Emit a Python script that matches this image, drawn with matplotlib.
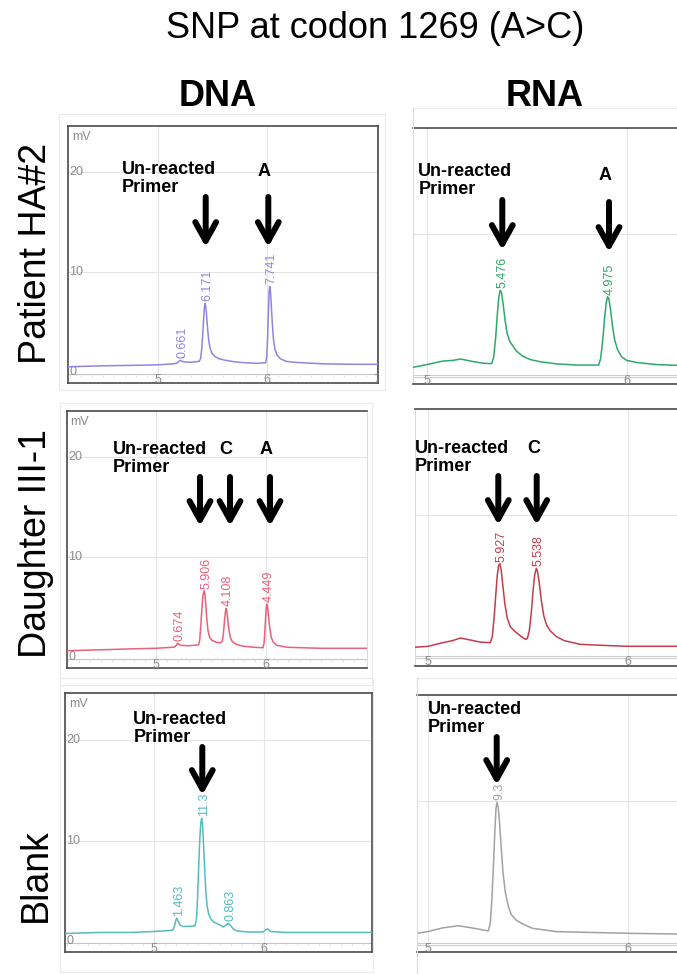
import numpy as np
import matplotlib.pyplot as plt
from matplotlib.patches import Rectangle

plt.rcParams['font.family'] = ['Liberation Sans', 'DejaVu Sans']

W, H = 677, 974

# traces: retention time (min), signal (mV)
dna1_t = [4.18, 4.5, 4.8, 5.0, 5.15, 5.18, 5.195, 5.205, 5.215, 5.235, 5.3, 5.38, 5.392, 5.402,
          5.412, 5.42, 5.426, 5.432, 5.438, 5.445, 5.455, 5.465, 5.478, 5.495, 5.52, 5.56,
          5.62, 5.7, 5.8, 5.9, 5.985, 5.995, 6.003, 6.01, 6.016, 6.022, 6.028, 6.035, 6.045,
          6.056, 6.07, 6.09, 6.12, 6.17, 6.25, 6.5, 6.8, 7.03]
dna1_mv = [0.55, 0.65, 0.7, 0.75, 0.85, 0.95, 1.1, 1.2, 1.15, 1.05, 1.0, 1.1, 1.4, 2.4,
           4.0, 5.5, 6.5, 6.9, 6.6, 5.8, 4.4, 3.2, 2.4, 1.9, 1.6, 1.35,
           1.2, 1.05, 0.95, 0.9, 0.95, 1.6, 3.5, 6.0, 8.0, 8.6, 8.2, 7.0, 5.0,
           3.3, 2.3, 1.7, 1.35, 1.1, 1.0, 0.85, 0.8, 0.8]
dna1_peak_t = [5.205, 5.432, 6.022]
dna1_peak_mv = [1.2, 6.9, 8.6]
dna1_peak_txt = ["0.661", "6.171", "7.741"]

rna1_t = [4.93, 5.0, 5.08, 5.13, 5.17, 5.22, 5.28, 5.325, 5.335, 5.345, 5.353, 5.36, 5.367,
          5.374, 5.382, 5.392, 5.402, 5.415, 5.43, 5.45, 5.48, 5.52, 5.57, 5.65, 5.75, 5.86,
          5.87, 5.88, 5.889, 5.897, 5.904, 5.911, 5.919, 5.929, 5.94, 5.955, 5.975, 6.0,
          6.05, 6.15, 6.25]
rna1_mv = [0.45, 0.65, 0.9, 0.95, 1.05, 0.9, 0.75, 0.72, 1.2, 2.6, 4.2, 5.4, 5.95,
           5.8, 5.0, 3.8, 2.9, 2.3, 2.0, 1.6, 1.25, 1.0, 0.85, 0.7, 0.62, 0.62,
           1.1, 2.4, 3.9, 5.0, 5.5, 5.35, 4.6, 3.4, 2.4, 1.7, 1.2, 0.95,
           0.8, 0.65, 0.6]
rna1_peak_t = [5.367, 5.904]
rna1_peak_mv = [5.95, 5.5]
rna1_peak_txt = ["5.476", "4.975"]

dna2_t = [4.19, 4.5, 4.8, 5.0, 5.15, 5.175, 5.19, 5.199, 5.21, 5.23, 5.3, 5.39, 5.40, 5.41,
          5.42, 5.43, 5.44, 5.447, 5.455, 5.465, 5.475, 5.49, 5.51, 5.55, 5.59, 5.605,
          5.615, 5.625, 5.633, 5.64, 5.647, 5.655, 5.665, 5.678, 5.695, 5.73, 5.8, 5.9,
          5.975, 5.985, 5.993, 6.0, 6.006, 6.012, 6.018, 6.026, 6.036, 6.05, 6.07, 6.1,
          6.2, 6.5, 6.92]
dna2_mv = [0.66, 0.75, 0.85, 0.9, 1.0, 1.05, 1.25, 1.4, 1.3, 1.2, 1.15, 1.25, 1.7, 3.2,
           4.9, 6.2, 6.66, 6.3, 5.3, 3.8, 2.7, 2.0, 1.7, 1.5, 1.45, 1.6,
           2.3, 3.6, 4.5, 4.9, 4.6, 3.8, 2.8, 2.0, 1.6, 1.3, 1.1, 1.0,
           0.95, 1.4, 2.7, 4.2, 5.1, 5.33, 5.0, 4.1, 3.0, 2.0, 1.5, 1.2,
           1.0, 0.9, 0.9]
dna2_peak_t = [5.199, 5.44, 5.64, 6.012]
dna2_peak_mv = [1.4, 6.66, 4.9, 5.33]
dna2_peak_txt = ["0.674", "5.906", "4.108", "4.449"]

rna2_t = [4.93, 5.0, 5.07, 5.12, 5.16, 5.21, 5.26, 5.31, 5.32, 5.33, 5.338, 5.345, 5.352,
          5.358, 5.365, 5.373, 5.383, 5.395, 5.41, 5.43, 5.46, 5.485, 5.495, 5.505, 5.515,
          5.524, 5.532, 5.54, 5.547, 5.555, 5.565, 5.577, 5.592, 5.61, 5.64, 5.68, 5.76,
          5.9, 6.0, 6.24]
rna2_mv = [0.53, 0.6, 0.85, 1.0, 1.19, 1.05, 0.9, 0.86, 1.3, 2.8, 4.4, 5.7, 6.4,
           6.5, 6.0, 4.9, 3.6, 2.6, 2.0, 1.7, 1.35, 1.1, 1.15, 1.7, 3.0,
           4.6, 5.7, 6.17, 5.9, 5.1, 3.9, 2.8, 2.1, 1.7, 1.3, 1.0, 0.74,
           0.65, 0.6, 0.6]
rna2_peak_t = [5.356, 5.54]
rna2_peak_mv = [6.5, 6.17]
rna2_peak_txt = ["5.927", "5.538"]

dna3_t = [4.19, 4.5, 4.8, 5.0, 5.15, 5.17, 5.185, 5.197, 5.205, 5.215, 5.235, 5.26, 5.3,
          5.37, 5.385, 5.395, 5.405, 5.415, 5.424, 5.432, 5.44, 5.448, 5.458, 5.468, 5.48,
          5.495, 5.515, 5.54, 5.58, 5.63, 5.655, 5.675, 5.69, 5.72, 5.75, 5.85, 5.99, 6.02,
          6.035, 6.06, 6.2, 6.5, 6.98]
dna3_mv = [0.75, 0.85, 0.85, 0.95, 1.05, 1.1, 1.5, 2.1, 2.27, 2.0, 1.6, 1.45, 1.45,
           1.5, 2.2, 4.5, 7.5, 10.2, 11.8, 12.2, 11.5, 9.8, 7.4, 5.2, 3.6,
           2.7, 2.2, 1.9, 1.7, 1.4, 1.6, 1.77, 1.6, 1.2, 1.0, 0.9, 0.9, 1.15,
           1.2, 0.95, 0.85, 0.85, 0.85]
dna3_peak_t = [5.205, 5.432, 5.675]
dna3_peak_mv = [2.27, 12.2, 1.77]
dna3_peak_txt = ["1.463", "11.3", "0.863"]

rna3_t = [4.945, 5.0, 5.07, 5.15, 5.22, 5.30, 5.31, 5.318, 5.325, 5.332, 5.338, 5.343, 5.349,
          5.356, 5.364, 5.373, 5.385, 5.4, 5.415, 5.44, 5.47, 5.52, 5.64, 6.0, 6.24]
rna3_mv = [0.57, 0.7, 0.95, 1.11, 0.95, 0.74, 1.3, 3.0, 5.2, 7.6, 9.4, 9.9, 9.6,
           8.5, 6.8, 5.0, 3.5, 2.5, 1.9, 1.5, 1.25, 0.93, 0.69, 0.57, 0.52]
rna3_peak_t = [5.343]
rna3_peak_mv = [9.9]
rna3_peak_txt = ["9.3"]

fig = plt.figure(figsize=(W / 100, H / 100), dpi=100)

GRID = '#e4e4e4'
TICK = '#8c8c8c'
FRAME = '#4a4a4a'


def panel(box, p5, p6, py0, s, t, mv, color, pk_t, pk_mv, pk_txt, dna=True, right_dark=True):
    x0, y0, x1, y1 = box
    ax = fig.add_axes([x0 / W, 1 - y1 / H, (x1 - x0) / W, (y1 - y0) / H])
    xmax = 5 + (x1 - p5) / (p6 - p5)
    ax.set_xlim(5 + (x0 - p5) / (p6 - p5), xmax)
    ax.set_ylim((py0 - y1) / s, (py0 - y0) / s)
    ax.set_xticks([])
    ax.set_yticks([])
    for v in (5, 6, 7):
        ax.axvline(v, color=GRID, lw=0.8, zorder=0)
    for v in (10, 20):
        ax.axhline(v, color=GRID, lw=0.8, zorder=0)
    if dna:
        ax.axhline(-2 / s, color='#c4c4c4', lw=0.8, zorder=1)
        ax.vlines(np.arange(4.2, 7.05, 0.1), -4.5 / s, -3 / s, color='#dadada', lw=0.6)
        for v in (0, 10, 20):
            ax.text(0.004, v, str(v), transform=ax.get_yaxis_transform(), ha='left',
                    va='center', fontsize=9, color=TICK)
        ax.text(0.012, (py0 - y0 - 11) / s, "mV", transform=ax.get_yaxis_transform(),
                ha='left', va='center', fontsize=9, color=TICK)
        tick_y = -7.5 / s
    else:
        ax.axhline(-1.5 / s, color='#cfcfcf', lw=0.8, zorder=1)
        ax.axhline(-3.7 / s, color='#cfcfcf', lw=0.8, zorder=1)
        tick_y = -7.3 / s
    for v in (5, 6, 7):
        if v < xmax:
            ax.text(v, tick_y, str(v), ha='center', va='center', fontsize=9, color=TICK,
                    clip_on=True)
    ax.plot(t, mv, color=color, lw=1.1, zorder=3)
    for x, y, txt in zip(pk_t, pk_mv, pk_txt):
        ax.annotate(txt, (x, y), xytext=(1.5, 1.5), textcoords='offset points', rotation=90,
                    ha='center', va='bottom', fontsize=9, color=color)
    for side, sp in ax.spines.items():
        sp.set_color(FRAME)
        sp.set_linewidth(1.2)
    if not dna:
        ax.spines['left'].set_color('#dcdcdc')
        ax.spines['left'].set_linewidth(0.8)
        ax.spines['right'].set_visible(False)
    elif not right_dark:
        ax.spines['right'].set_color('#dcdcdc')
        ax.spines['right'].set_linewidth(0.8)
    return ax


panel((68, 126, 378, 383), 157.7, 267.3, 372.3, 10.0, dna1_t, dna1_mv, '#9583e0',
      dna1_peak_t, dna1_peak_mv, dna1_peak_txt)
panel((413, 128, 677, 384), 426.7, 626.7, 373.7, 14.0, rna1_t, rna1_mv, '#2fa86a',
      rna1_peak_t, rna1_peak_mv, rna1_peak_txt, dna=False)
panel((67, 411, 367, 668), 155.7, 265.7, 657.3, 10.0, dna2_t, dna2_mv, '#ea6078',
      dna2_peak_t, dna2_peak_mv, dna2_peak_txt, right_dark=False)
panel((415, 409, 677, 666), 428.3, 628.3, 654.7, 14.0, rna2_t, rna2_mv, '#c43c4c',
      rna2_peak_t, rna2_peak_mv, rna2_peak_txt, dna=False)
panel((65, 693, 372, 952), 154.3, 264.0, 941.0, 10.05, dna3_t, dna3_mv, '#55bcbc',
      dna3_peak_t, dna3_peak_mv, dna3_peak_txt)
panel((417, 695, 677, 952), 428.3, 628.3, 941.3, 14.03, rna3_t, rna3_mv, '#a2a2a2',
      rna3_peak_t, rna3_peak_mv, rna3_peak_txt, dna=False)

# overlay in pixel coordinates (y downwards) for headings, labels and arrows
ov = fig.add_axes([0, 0, 1, 1])
ov.set_xlim(0, W)
ov.set_ylim(H, 0)
ov.axis('off')

for (bx0, by0, bx1, by1) in [(59, 114, 385, 390), (60, 403, 372, 685), (60, 678, 373, 972)]:
    ov.add_patch(Rectangle((bx0, by0), bx1 - bx0, by1 - by0, fill=False, ec='#ebebeb', lw=0.8))
ov.plot([413, 677], [108, 108], color='#ebebeb', lw=0.8)
ov.plot([413, 413], [108, 128], color='#dcdcdc', lw=0.8)
ov.plot([417, 677], [678, 678], color='#ebebeb', lw=0.8)
ov.plot([417, 417], [678, 973], color='#dcdcdc', lw=0.8)

ov.text(375, 29, "SNP at codon 1269 (A>C)", ha='center', va='center', fontsize=26)
ov.text(218, 97, "DNA", ha='center', va='center', fontsize=26, fontweight='bold')
ov.text(545, 97, "RNA", ha='center', va='center', fontsize=26, fontweight='bold')
ov.text(36, 253, "Patient HA#2", ha='center', va='center', rotation=90, fontsize=27)
ov.text(36, 544, "Daughter III-1", ha='center', va='center', rotation=90, fontsize=27)
ov.text(36, 875, "Blank", ha='center', va='center', rotation=90, fontsize=27)

lab = dict(fontsize=13, fontweight='bold', va='top', linespacing=1.05)
ov.text(121.7, 161, "Un-reacted\nPrimer", ha='left', **lab)
ov.text(264, 163, "A", ha='center', **lab)
ov.text(418.3, 163, "Un-reacted\nPrimer", ha='left', **lab)
ov.text(605, 167, "A", ha='center', **lab)
ov.text(112.7, 441, "Un-reacted\nPrimer", ha='left', **lab)
ov.text(226, 441, "C", ha='center', **lab)
ov.text(265.7, 441, "A", ha='center', **lab)
ov.text(415, 440, "Un-reacted\nPrimer", ha='left', **lab)
ov.text(533.3, 440, "C", ha='center', **lab)
ov.text(133.3, 711, "Un-reacted\nPrimer", ha='left', **lab)
ov.text(427.7, 701, "Un-reacted\nPrimer", ha='left', **lab)

arrows = [(205.7, 197, 247), (268.3, 197, 247),
          (502.3, 200, 250), (609, 202, 252),
          (200, 477, 526), (230, 477, 526), (270, 477, 526),
          (498.3, 476, 525), (536.7, 476, 525),
          (202.3, 747, 795), (496.7, 737, 785)]
for ax_x, top, tip in arrows:
    ov.annotate("", xy=(ax_x, tip), xytext=(ax_x, top),
                arrowprops=dict(arrowstyle='->,head_length=1.35,head_width=0.75', lw=4.3,
                                color='black', mutation_scale=10, shrinkA=0, shrinkB=0))

fig.savefig("out.png", dpi=100)
